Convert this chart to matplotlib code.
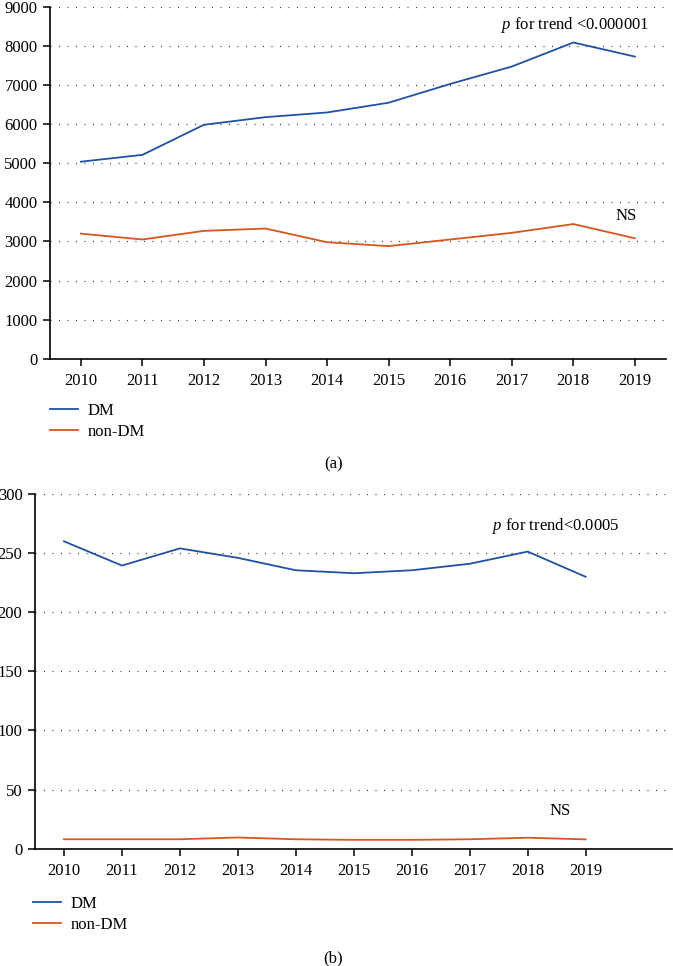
import matplotlib
matplotlib.use("Agg")
import matplotlib.pyplot as plt
from matplotlib.lines import Line2D

years = [2010, 2011, 2012, 2013, 2014, 2015, 2016, 2017, 2018, 2019]
dm_a = [5040, 5215, 5985, 6180, 6300, 6550, 7030, 7475, 8090, 7730]
nondm_a = [3200, 3050, 3270, 3330, 2980, 2880, 3050, 3220, 3445, 3080]
dm_b = [260, 239.5, 254, 246, 235.5, 233, 235.5, 241, 251.3, 230]
nondm_b = [8.0, 8.0, 8.0, 9.5, 8.0, 7.5, 7.5, 8.0, 9.3, 7.9]
labels = ["DM", "non-DM"]
yticks_a = list(range(0, 10000, 1000))
yticks_b = list(range(0, 301, 50))

plt.rcParams['font.family'] = ['Liberation Serif', 'DejaVu Serif']
plt.rcParams['mathtext.fontset'] = 'custom'
plt.rcParams['mathtext.it'] = 'Liberation Serif:italic'
plt.rcParams['mathtext.rm'] = 'Liberation Serif'
plt.rcParams['font.size'] = 12

BLUE = '#1f52a3'
ORANGE = '#d6561f'
LW = 1.3

fig = plt.figure(figsize=(6.73, 9.66), dpi=100)

def style(ax, yticks, xlim):
    for s in ['top', 'right']:
        ax.spines[s].set_visible(False)
    for s in ['left', 'bottom']:
        ax.spines[s].set_linewidth(1.2)
    ax.set_yticks(yticks)
    ax.set_ylim(yticks[0], yticks[-1])
    ax.set_xticks(years)
    ax.set_xticklabels([str(y) for y in years])
    ax.set_xlim(*xlim)
    ax.tick_params(axis='both', direction='out', length=5, width=1.1, labelsize=12)
    ax.tick_params(axis='x', pad=5)
    ax.tick_params(axis='y', pad=4)
    for yv in yticks[1:]:
        ax.axhline(yv, color='#333333', lw=0.9, linestyle=(0, (0.8, 6.0)), zorder=0)

# Panel (a)
ax1 = fig.add_axes([0.0743, 0.6287, 0.9149, 0.3641])
ax1.plot(years, dm_a, color=BLUE, lw=LW)
ax1.plot(years, nondm_a, color=ORANGE, lw=LW)
style(ax1, yticks_a, (2009.5, 2019.5))
ax1.text(2018.02, 8540, r'$p$ for trend <0.000001', ha='center', va='center', fontsize=12)
ax1.text(2018.85, 3640, 'NS', ha='center', va='center', fontsize=12)

handles = [Line2D([], [], color=BLUE, lw=LW), Line2D([], [], color=ORANGE, lw=LW)]
fig.legend(handles, labels, loc='upper left', bbox_to_anchor=(0.0743, 0.5828),
           frameon=False, borderpad=0, borderaxespad=0, handlelength=1.7,
           handletextpad=0.55, labelspacing=0.3, fontsize=12)
fig.text(0.495, 1 - 464 / 966, '(a)', ha='center', va='center', fontsize=12)

# Panel (b)
ax2 = fig.add_axes([0.052, 0.1214, 0.9465, 0.3672])
ax2.plot(years, dm_b, color=BLUE, lw=LW)
ax2.plot(years, nondm_b, color=ORANGE, lw=LW)
style(ax2, yticks_b, (2009.5, 2020.49))
ax2.text(2018.48, 273, r'$p$ for trend<0.0005', ha='center', va='center', fontsize=12)
ax2.text(2018.56, 32, 'NS', ha='center', va='center', fontsize=12)

fig.legend(handles, labels, loc='upper left', bbox_to_anchor=(0.049, 0.0725),
           frameon=False, borderpad=0, borderaxespad=0, handlelength=1.7,
           handletextpad=0.55, labelspacing=0.3, fontsize=12)
fig.text(0.495, 1 - 958 / 966, '(b)', ha='center', va='center', fontsize=12)

fig.savefig('out.png', dpi=100)
